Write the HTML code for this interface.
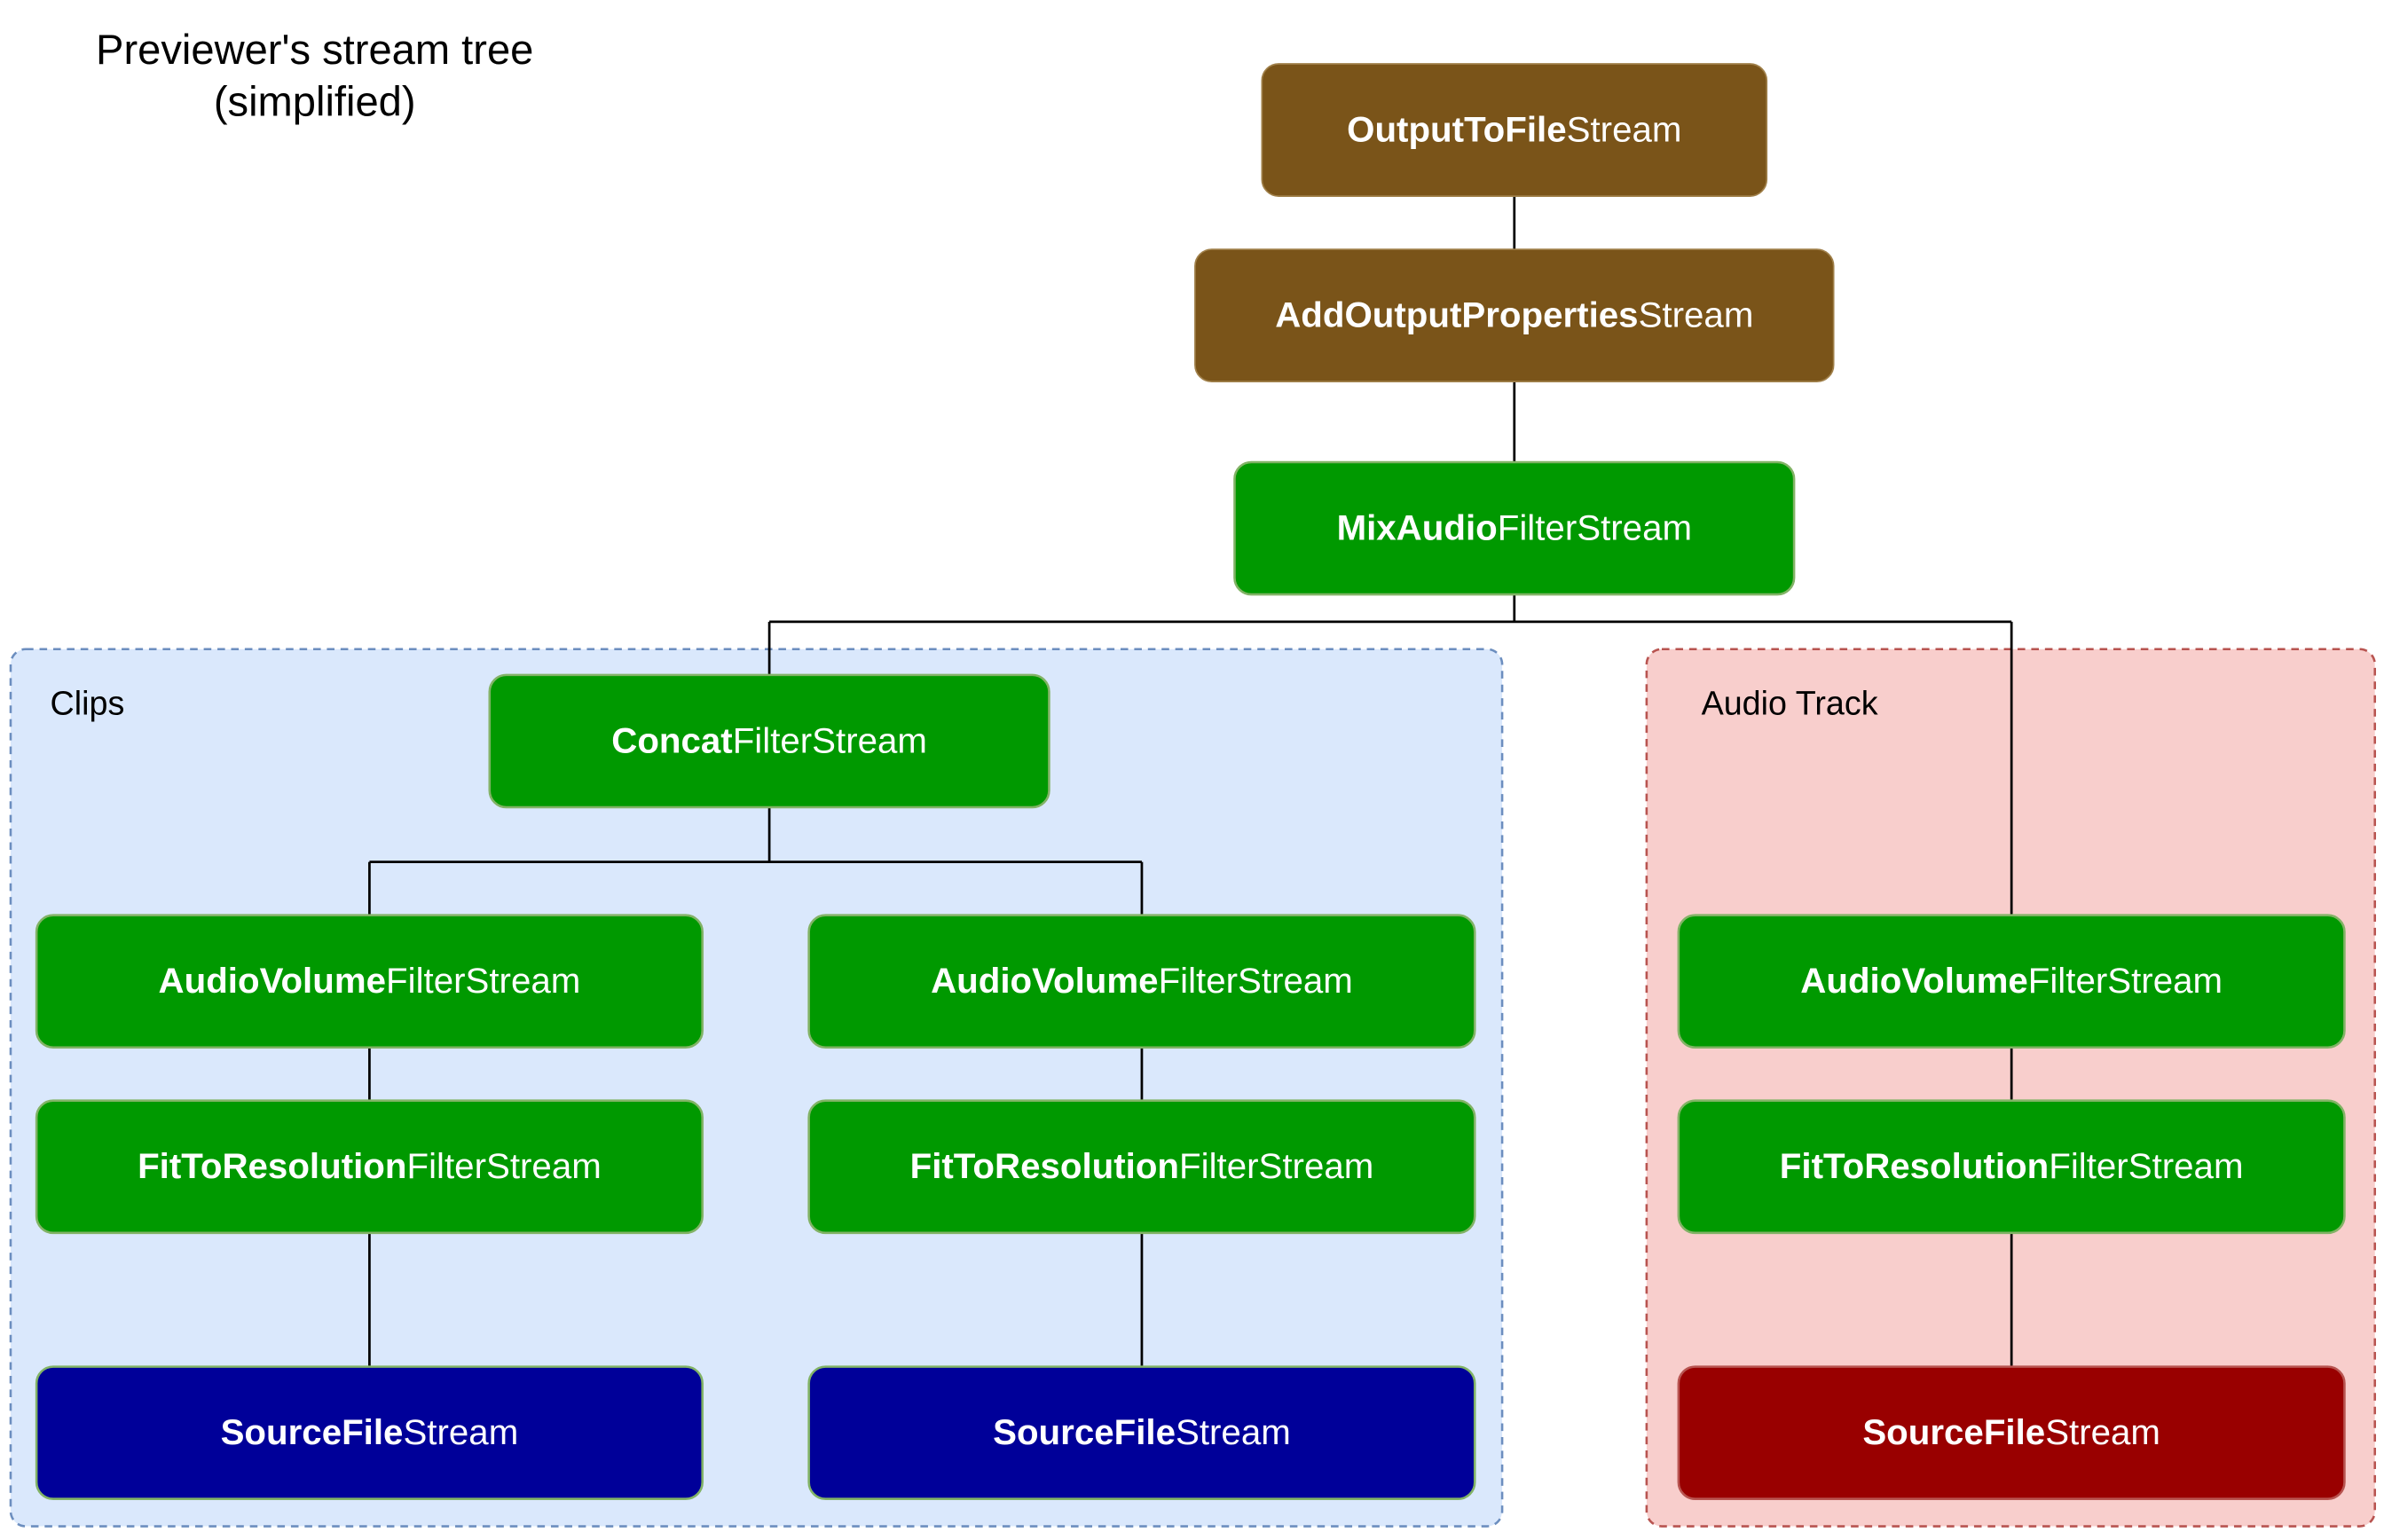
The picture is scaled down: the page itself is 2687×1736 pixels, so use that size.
<!DOCTYPE html>
<html><head><meta charset="utf-8"><style>
html,body{margin:0;padding:0;background:#fff;}
svg{display:block;}
text{font-family:"Liberation Sans",sans-serif;}
</style></head><body>
<svg width="2687" height="1736" viewBox="0 0 1568 1013" xmlns="http://www.w3.org/2000/svg">
<rect x="0" y="0" width="1568" height="1013" fill="#fff"/>
<rect x="7" y="427" width="981" height="577" rx="10" fill="#dae8fc" stroke="#6c8ebf" stroke-width="1.5" stroke-dasharray="5,4"/>
<rect x="1083" y="427" width="479" height="577" rx="10" fill="#f8cecc" stroke="#b85450" stroke-width="1.5" stroke-dasharray="5,4"/>
<text x="207" y="42" font-size="27.5" text-anchor="middle" fill="#000">Previewer's stream tree</text>
<text x="207" y="76" font-size="27.5" text-anchor="middle" fill="#000">(simplified)</text>
<text x="33" y="470" font-size="22" fill="#000">Clips</text>
<text x="1119" y="470" font-size="22" fill="#000">Audio Track</text>
<g stroke="#000" stroke-width="1.6" fill="none">
<line x1="996" y1="129" x2="996" y2="164"/>
<line x1="996" y1="251" x2="996" y2="304"/>
<line x1="996" y1="391" x2="996" y2="409"/>
<line x1="506" y1="409" x2="1323" y2="409"/>
<line x1="506" y1="409" x2="506" y2="444"/>
<line x1="1323" y1="409" x2="1323" y2="602"/>
<line x1="506" y1="531" x2="506" y2="567"/>
<line x1="243" y1="567" x2="751" y2="567"/>
<line x1="243" y1="567" x2="243" y2="602"/>
<line x1="751" y1="567" x2="751" y2="602"/>
<line x1="243" y1="689" x2="243" y2="724"/>
<line x1="751" y1="689" x2="751" y2="724"/>
<line x1="1323" y1="689" x2="1323" y2="724"/>
<line x1="243" y1="811" x2="243" y2="899"/>
<line x1="751" y1="811" x2="751" y2="899"/>
<line x1="1323" y1="811" x2="1323" y2="899"/>
</g>
<g font-size="23.5" fill="#fff" text-anchor="middle">
<rect x="830" y="42" width="332" height="87" rx="11" fill="#7a5419" stroke="#a0804a" stroke-width="1"/>
<text x="996" y="93" fill="#fff"><tspan font-weight="bold">OutputToFile</tspan>Stream</text>
<rect x="786" y="164" width="420" height="87" rx="11" fill="#7a5419" stroke="#a0804a" stroke-width="1"/>
<text x="996" y="215" fill="#fff"><tspan font-weight="bold">AddOutputProperties</tspan>Stream</text>
<rect x="812" y="304" width="368" height="87" rx="11" fill="#009900" stroke="#82b366" stroke-width="1.5"/>
<text x="996" y="355" fill="#fff"><tspan font-weight="bold">MixAudio</tspan>FilterStream</text>
<rect x="322" y="444" width="368" height="87" rx="11" fill="#009900" stroke="#82b366" stroke-width="1.5"/>
<text x="506" y="495" fill="#fff"><tspan font-weight="bold">Concat</tspan>FilterStream</text>

<rect x="24" y="602" width="438" height="87" rx="11" fill="#009900" stroke="#82b366" stroke-width="1.5"/>
<text x="243" y="653" fill="#fff"><tspan font-weight="bold">AudioVolume</tspan>FilterStream</text>
<rect x="532" y="602" width="438" height="87" rx="11" fill="#009900" stroke="#82b366" stroke-width="1.5"/>
<text x="751" y="653" fill="#fff"><tspan font-weight="bold">AudioVolume</tspan>FilterStream</text>
<rect x="1104" y="602" width="438" height="87" rx="11" fill="#009900" stroke="#82b366" stroke-width="1.5"/>
<text x="1323" y="653" fill="#fff"><tspan font-weight="bold">AudioVolume</tspan>FilterStream</text>

<rect x="24" y="724" width="438" height="87" rx="11" fill="#009900" stroke="#82b366" stroke-width="1.5"/>
<text x="243" y="775" fill="#fff"><tspan font-weight="bold">FitToResolution</tspan>FilterStream</text>
<rect x="532" y="724" width="438" height="87" rx="11" fill="#009900" stroke="#82b366" stroke-width="1.5"/>
<text x="751" y="775" fill="#fff"><tspan font-weight="bold">FitToResolution</tspan>FilterStream</text>
<rect x="1104" y="724" width="438" height="87" rx="11" fill="#009900" stroke="#82b366" stroke-width="1.5"/>
<text x="1323" y="775" fill="#fff"><tspan font-weight="bold">FitToResolution</tspan>FilterStream</text>

<rect x="24" y="899" width="438" height="87" rx="11" fill="#000099" stroke="#82b366" stroke-width="1.5"/>
<text x="243" y="950" fill="#fff"><tspan font-weight="bold">SourceFile</tspan>Stream</text>
<rect x="532" y="899" width="438" height="87" rx="11" fill="#000099" stroke="#82b366" stroke-width="1.5"/>
<text x="751" y="950" fill="#fff"><tspan font-weight="bold">SourceFile</tspan>Stream</text>
<rect x="1104" y="899" width="438" height="87" rx="11" fill="#990000" stroke="#b85450" stroke-width="1.5"/>
<text x="1323" y="950" fill="#fff"><tspan font-weight="bold">SourceFile</tspan>Stream</text>
</g>
</svg>
</body></html>
